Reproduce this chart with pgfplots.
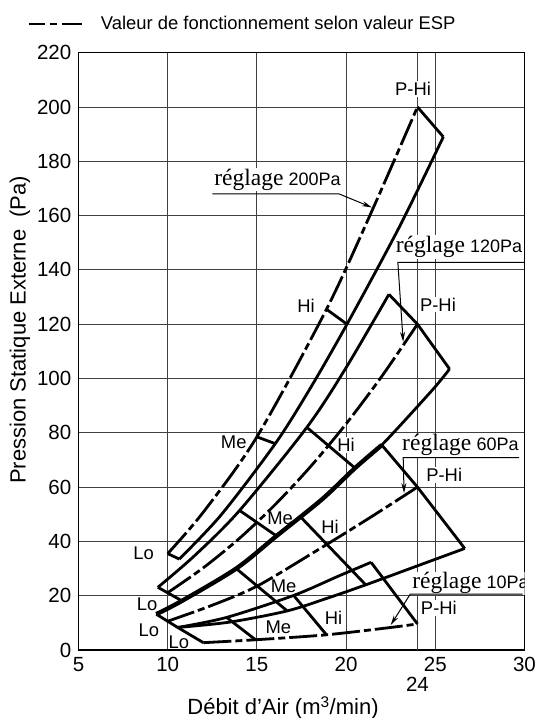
\documentclass[border=0pt]{standalone}
\usepackage{fontspec}
\setmainfont{Liberation Sans}
\newfontfamily\serifr{Liberation Serif}
\usepackage{pgfplots}
\pgfplotsset{compat=1.18}
\usetikzlibrary{arrows.meta}

\newcommand\lbl{\fontsize{18.4}{20}\selectfont}
\newcommand\regl[1]{{\serifr\fontsize{23.5}{26}\selectfont réglage} {\fontsize{18}{20}\selectfont #1}}

\begin{document}
\begin{tikzpicture}
\path[use as bounding box] (-78.5pt,-68pt) rectangle (460.5pt,650pt);
\begin{axis}[
  scale only axis, width=446pt, height=597.3pt,
  xmin=5, xmax=30, ymin=0, ymax=220,
  xtick={5,10,...,30}, ytick={0,20,...,220},
  extra x ticks={24}, extra x tick labels={24},
  extra x tick style={grid=major, tick label style={yshift=-20pt}},
  grid=major, grid style={line width=0.9pt, color=black!75},
  axis line style={line width=1.6pt},
  major tick length=0pt,
  tick label style={font=\fontsize{20.5}{22}\selectfont},
  xticklabel style={yshift=-4pt},
  yticklabel style={xshift=-3.7pt},
  /pgf/number format/assume math mode=true,
  xlabel={Débit d’Air (m\textsuperscript{3}/min)},
  ylabel={Pression Statique Externe\ \ (Pa)},
  label style={font=\fontsize{22}{24}\selectfont},
  xlabel style={at={(axis description cs:0.4585,0)}, anchor=center, yshift=-58pt},
  ylabel style={at={(axis description cs:0,0.536)}, anchor=center, yshift=58.5pt},
  legend style={at={(axis description cs:0,1)}, anchor=west, xshift=-51.5pt, yshift=28.7pt,
    draw=none, fill=none, inner sep=0pt, font=\fontsize{18.4}{20}\selectfont,
    nodes={inner sep=0pt}, column sep=18pt},
  legend image code/.code={\draw[#1, dash pattern=on 16pt off 5pt on 7pt off 5pt on 20pt] (0pt,0pt) -- (53pt,0pt);},
  cycle list={{black, solid}},
  every axis plot/.append style={black, line width=2.8pt, no markers},
  op/.style={dash pattern=on 28pt off 4pt on 7pt off 4pt},
]
% labels (white boxes over the grid)
\begin{scope}[every node/.style={fill=white, inner sep=1pt, font=\lbl}]
\node at (axis cs:8.65,35.5) {Lo};
\node at (axis cs:8.85,17) {Lo};
\node at (axis cs:8.95,7.2) {Lo};
\node at (axis cs:10.62,3) {Lo};
\node at (axis cs:13.7,76.5) {Me};
\node at (axis cs:16.3,48.5) {Me};
\node at (axis cs:16.5,23.5) {Me};
\node at (axis cs:16.2,8.5) {Me};
\node at (axis cs:17.75,126.7) {Hi};
\node at (axis cs:20,75.5) {Hi};
\node at (axis cs:19.1,45.2) {Hi};
\node at (axis cs:19.3,11.9) {Hi};
\node at (axis cs:23.75,206.6) {P-Hi};
\node at (axis cs:25.15,127.2) {P-Hi};
\node at (axis cs:25.5,64.5) {P-Hi};
\node at (axis cs:25.2,15.5) {P-Hi};
\node[anchor=base west] at (axis cs:12.55,171.2) {\regl{200Pa}};
\node[anchor=base west] at (axis cs:22.72,146.3) {\regl{120Pa}};
\node[anchor=base west] at (axis cs:23.08,73.3) {\regl{60Pa}};
\node[anchor=base west] at (axis cs:23.65,22.5) {\regl{10Pa}};
\end{scope}

% 200 Pa
\addplot[smooth, op] coordinates {(10,35.5) (12,50.8) (15,78.5) (18.9,125.5) (21.5,162.5) (24,200)};
\addlegendentry{Valeur de fonctionnement selon valeur ESP}
\addplot[smooth] coordinates {(10.65,33.5) (13,49.8) (16.03,76) (18,96.5) (20.05,120) (23,156) (25.45,189)};
\addplot[black] coordinates {(10,35.5) (10.65,33.5)};
\addplot[black] coordinates {(15,78.5) (16.03,76)};
\addplot[black] coordinates {(18.9,125.5) (20.05,120)};
\addplot[black] coordinates {(24,200) (25.45,189)};
% 120 Pa
\addplot[smooth] coordinates {(9.45,23.1) (11.5,34.7) (14.03,51.4) (17.8,82) (20,104) (22.4,131)};
\addplot[smooth, op] coordinates {(10,21.1) (12,30.3) (14,41) (16,53.4) (18,67.5) (20,83.3) (22,100.8) (24,120)};
\addplot[smooth] coordinates {(10.8,18.1) (13.84,30) (16.1,42) (18.65,55.5) (20.5,67) (22,75.5) (24.8,95.5) (25.8,103.5)};
\addplot[black] coordinates {(9.45,23.1) (10.8,18.1)};
\addplot[black] coordinates {(14.03,51.4) (16.1,42)};
\addplot[black] coordinates {(17.8,82) (20.5,67)};
\addplot[black] coordinates {(22.4,131) (24,120) (25.8,103.5)};
% 60 Pa
\addplot[smooth, line width=4.4pt] coordinates {(9.36,13.2) (10.8,18.1) (13.84,30) (16.1,42) (18.65,55.5) (20.5,67) (22,75.5)};
\addplot[smooth, op] coordinates {(10,10.6) (12.5,16.5) (15,23.5) (18.2,36) (21.3,48.6) (24,60)};
\addplot[smooth] coordinates {(10.56,8.3) (13.5,10.3) (16.7,14.4) (19,19.2) (21.1,24) (24,31) (26.65,37.4)};
\addplot[black] coordinates {(9.36,13.2) (10.56,8.3)};
\addplot[black] coordinates {(13.84,30) (16.7,14.4)};
\addplot[black] coordinates {(17.45,49) (21.1,24)};
\addplot[black] coordinates {(22,75.5) (24,60) (26.65,37.4)};
% 10 Pa
\addplot[smooth] coordinates {(10.56,8.3) (13.3,12) (17.06,20.1) (19.6,27.3) (21.4,32.3)};
\addplot[smooth, op] coordinates {(12,2.7) (15,3.8) (18.9,5.6) (22.5,8.3) (24,9.6)};
\addplot[black] coordinates {(10.56,8.3) (12,2.7)};
\addplot[black] coordinates {(13.3,12) (14.94,3.7)};
\addplot[black] coordinates {(17.06,20.1) (18.9,5.6)};
\addplot[black] coordinates {(21.4,32.3) (24,9.6)};
% annotation leaders
\addplot[line width=1pt, -{Stealth[length=10pt,width=5pt]}] coordinates {(12.5,168) (19.6,168) (21.45,163)};
\addplot[line width=1pt, -{Stealth[length=10pt,width=5pt]}] coordinates {(30,142.8) (22.9,142.8) (23.2,113.5)};
\addplot[line width=1pt, -{Stealth[length=10pt,width=5pt]}] coordinates {(29.7,70.9) (23.2,70.9) (23.25,57.8)};
\addplot[line width=1pt, -{Stealth[length=10pt,width=5pt]}] coordinates {(29.9,20.6) (23.6,20.6) (22.5,9.2)};
\end{axis}
\end{tikzpicture}
\end{document}
